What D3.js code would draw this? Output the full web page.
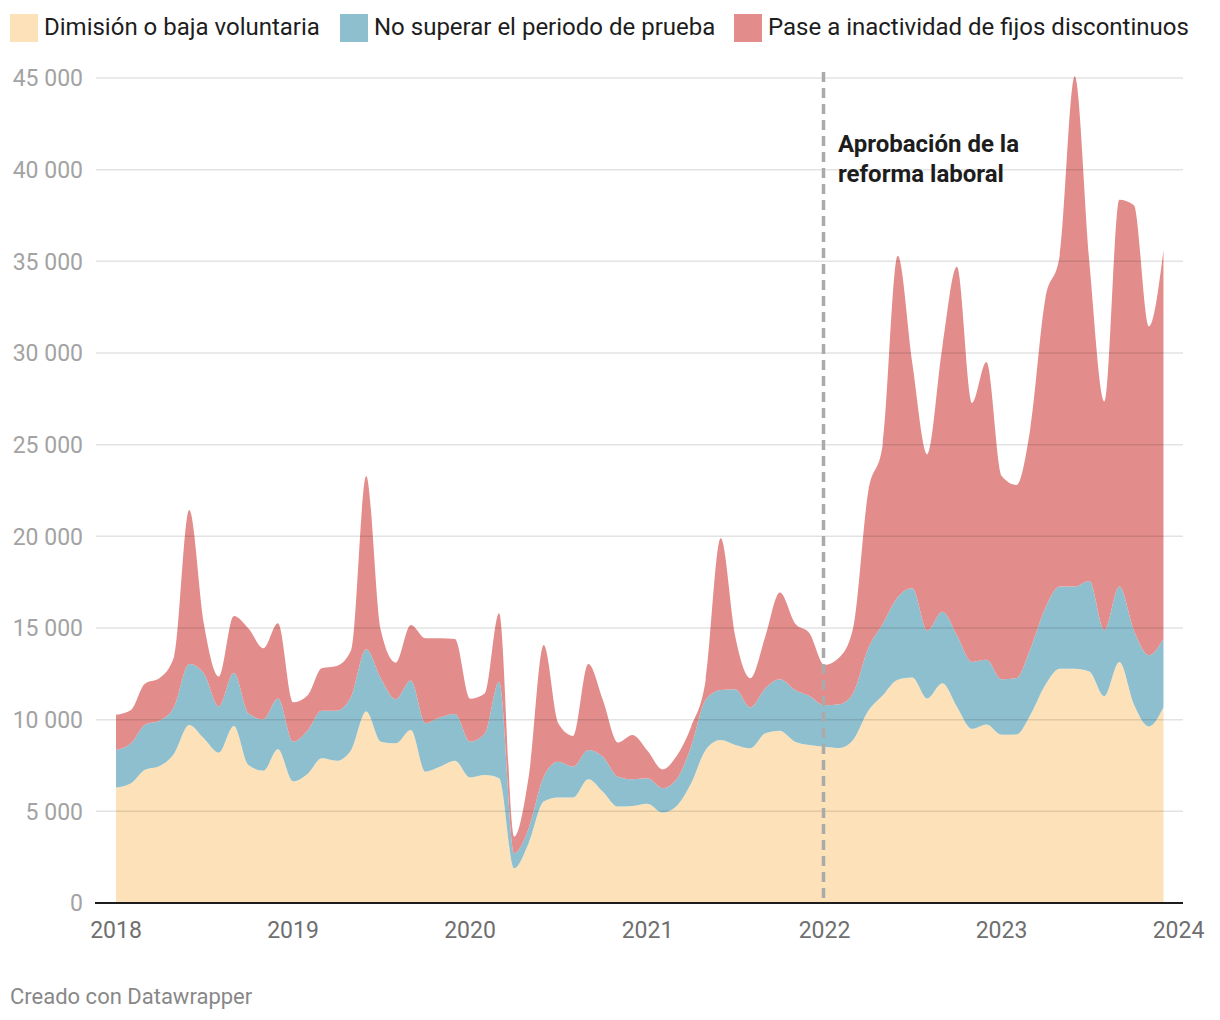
<!DOCTYPE html>
<html><head><meta charset="utf-8">
<script src="https://cdn.jsdelivr.net/npm/d3@7"></script>
<style>body{margin:0;background:#fff;font-family:Roboto,"Noto Sans",sans-serif;}</style>
</head><body>
<svg id="chart" width="1220" height="1020"></svg>
<script>
const seriesNames = ["Dimisión o baja voluntaria", "No superar el periodo de prueba", "Pase a inactividad de fijos discontinuos"];
const seriesColors = ["#fde2b9", "#8ebfcf", "#e28d8b"];
// monthly values, Jan 2018 - Dec 2023
const dimision = [6300,6530,7250,7470,8160,9710,8980,8200,9650,7530,7220,8380,
  6640,7070,7890,7760,8350,10440,8800,8710,9440,7160,7440,7760,
  6850,6980,6800,1890,3260,5530,5760,5760,6750,6070,5260,5290,
  5420,4930,5260,6530,8350,8890,8620,8440,9260,9400,8800,8620,
  8520,8450,8890,10470,11320,12180,12300,11150,11980,10710,9500,9740,
  9180,9190,10230,11880,12780,12780,12630,11280,13140,10830,9630,10680];
const periodoPrueba = [2050,2180,2460,2480,2550,3330,3550,2510,2910,2820,2800,2780,
  2160,2370,2600,2730,2910,3400,3460,2400,2690,2640,2690,2550,
  1950,2280,5270,820,810,1360,1950,1680,1600,1910,1630,1460,
  1380,1330,1450,2000,2720,2730,3040,2230,2450,2800,2820,2670,
  2260,2390,2550,3410,3900,4500,4870,3700,3900,3900,3650,3530,
  3020,3080,3590,4190,4480,4480,4930,3590,4120,4040,3890,3740];
const fijosDiscontinuos = [1920,1820,2240,2320,2730,8400,2730,1640,3100,4630,3870,4100,
  2150,1910,2310,2440,2540,9450,2630,2000,3030,4640,4310,4090,
  2340,2180,3730,910,2820,7180,2090,1670,4690,3090,1860,2410,
  1500,1030,1270,1090,1090,8270,2870,1590,2820,4730,3640,3420,
  2200,2560,3560,8520,9780,18620,12290,9620,14440,20090,14120,16240,
  11100,10530,11980,16830,18040,27840,17440,12480,21100,23190,17930,21180];
const yTicks = [0,5000,10000,15000,20000,25000,30000,35000,40000,45000];
const xTickYears = [2018,2019,2020,2021,2022,2023,2024];
const annotationLines = ["Aprobación de la", "reforma laboral"];
const annotationDate = new Date(2022,0,1);
const footerText = "Creado con Datawrapper";

const months = dimision.map((_,i)=> new Date(2018, i, 1));
const table = months.map((d,i)=>({date:d, s0:dimision[i], s1:periodoPrueba[i], s2:fijosDiscontinuos[i]}));

const svg = d3.select("#chart");
const x = d3.scaleTime().domain([new Date(2018,0,1), new Date(2024,0,1)]).range([116, 1178.5]);
const y = d3.scaleLinear().domain([0,45000]).range([903, 78]);

const stack = d3.stack().keys(["s0","s1","s2"]);
const layers = stack(table);
const area = d3.area().x(d=>x(d.data.date)).y0(d=>y(d[0])).y1(d=>y(d[1])).curve(d3.curveMonotoneX);

svg.append("g").selectAll("path").data(layers).join("path")
  .attr("d", area).attr("fill", (d,i)=>seriesColors[i]);

// gridlines on top (translucent)
svg.append("g").selectAll("line").data(yTicks.filter(t=>t>0)).join("line")
  .attr("x1",96).attr("x2",1183).attr("y1",d=>y(d)).attr("y2",d=>y(d))
  .attr("stroke","rgba(0,0,0,0.11)").attr("stroke-width",1.5);

// y labels
svg.append("g").selectAll("text").data(yTicks).join("text")
  .attr("x",83).attr("y",d=>y(d)).attr("dy","0.36em").attr("text-anchor","end")
  .attr("font-size",23).attr("fill","#a3a3a3")
  .text(d=> d===0 ? "0" : d3.format(",")(d).replace(",", " "));

// baseline
svg.append("line").attr("x1",95).attr("x2",1183).attr("y1",y(0)).attr("y2",y(0))
  .attr("stroke","#1d1d1d").attr("stroke-width",2);

// x labels
svg.append("g").selectAll("text").data(xTickYears).join("text")
  .attr("x",d=>x(new Date(d,0,1))).attr("y",938).attr("text-anchor","middle")
  .attr("font-size",23).attr("fill","#6f6f6f").text(d=>d);

// annotation dashed line
const ax = Math.round(x(annotationDate)) - 0.5;
svg.append("line").attr("x1",ax).attr("x2",ax).attr("y1",72).attr("y2",903)
  .attr("stroke","#aaaaaa").attr("stroke-width",3.5).attr("stroke-dasharray","10,6");
svg.append("g").selectAll("text").data(annotationLines).join("text")
  .attr("x",838).attr("y",(d,i)=>152+i*30)
  .attr("font-size",24).attr("font-weight","bold").attr("fill","#1d1d1d").text(d=>d);

// legend
const legendX = [10, 340, 734];
const lg = svg.append("g").selectAll("g").data(seriesNames).join("g")
  .attr("transform",(d,i)=>`translate(${legendX[i]},0)`);
lg.append("rect").attr("x",0).attr("y",14).attr("width",28).attr("height",28).attr("fill",(d,i)=>seriesColors[i]);
lg.append("text").attr("x",34).attr("y",35).attr("font-size",24).attr("fill","#1d1d1d").text(d=>d);

// footer
svg.append("text").attr("x",10).attr("y",1004).attr("font-size",22).attr("fill","#888").text(footerText);
</script>
</body></html>
